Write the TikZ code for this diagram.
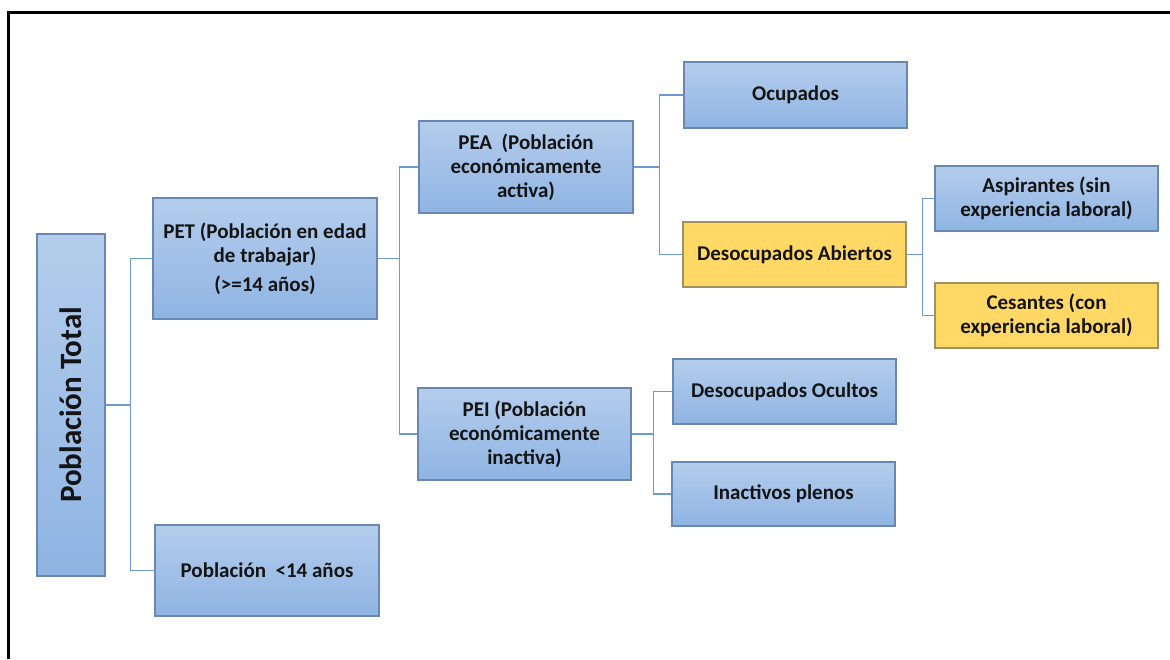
\documentclass[tikz,border=0pt]{standalone}
\usepackage{fontspec}
\setmainfont{Carlito}
\definecolor{bluetop}{RGB}{180,205,236}
\definecolor{bluebot}{RGB}{143,180,227}
\definecolor{blueedge}{RGB}{105,135,175}
\definecolor{yelfill}{RGB}{255,216,102}
\definecolor{yeledge}{RGB}{160,145,100}
\definecolor{wire}{RGB}{108,155,210}
\definecolor{ink}{RGB}{20,20,20}
\tikzset{
  bbox/.style={draw=blueedge, line width=1.2pt, top color=bluetop, bottom color=bluebot,
    text=ink, font=\fontsize{21}{24}\selectfont\bfseries, align=center, inner sep=0pt,
    anchor=center},
  ybox/.style={bbox, fill=yelfill, top color=yelfill, bottom color=yelfill, draw=yeledge},
  wirel/.style={draw=wire, line width=1.5pt},
}
\begin{document}
\begin{tikzpicture}[x=1pt,y=-1pt]
\useasboundingbox (0,0) rectangle (1170,659);
\draw[line width=2.2pt, black] (8.5,659) -- (8.5,12.5) -- (1170,12.5);

\node[bbox, minimum width=68pt, minimum height=342pt] (tot) at (71,405)
  {\rotatebox{90}{\fontsize{31}{33}\selectfont\bfseries Población Total}};
\node[bbox, minimum width=224pt, minimum height=121pt] (pet) at (265,258.5)
  {PET (Población en edad\\de trabajar)\\[5pt](>=14 años)};
\node[bbox, minimum width=224pt, minimum height=91pt] (men) at (267,570.5)
  {Población\ \ <14 años};
\node[bbox, minimum width=214pt, minimum height=92pt] (pea) at (526,167)
  {PEA\ \ (Población\\económicamente\\activa)};
\node[bbox, minimum width=213pt, minimum height=92pt] (pei) at (524.5,434)
  {PEI (Población\\económicamente\\inactiva)};
\node[bbox, minimum width=223pt, minimum height=66pt] (ocu) at (795.5,95) {Ocupados};
\node[ybox, minimum width=223pt, minimum height=65pt] (dab) at (794.5,254.5) {Desocupados Abiertos};
\node[bbox, minimum width=223pt, minimum height=65pt] (asp) at (1046.5,198.5)
  {Aspirantes (sin\\experiencia laboral)};
\node[ybox, minimum width=223pt, minimum height=65pt] (ces) at (1046.5,315.5)
  {Cesantes (con\\experiencia laboral)};
\node[bbox, minimum width=223pt, minimum height=65pt] (doc) at (784.5,391.5) {Desocupados Ocultos};
\node[bbox, minimum width=223pt, minimum height=64pt] (ina) at (783.5,494) {Inactivos plenos};

\draw[wirel] (tot.east) -- ++(25,0) coordinate (j1);
\draw[wirel] (j1) |- (pet.west);
\draw[wirel] (j1) |- (men.west);
\draw[wirel] (pet.east) -- ++(22,0) coordinate (j2);
\draw[wirel] (j2) |- (pea.west);
\draw[wirel] (j2) |- (pei.west);
\draw[wirel] (pea.east) -- ++(26,0) coordinate (j3);
\draw[wirel] (j3) |- (ocu.west);
\draw[wirel] (j3) |- (dab.west);
\draw[wirel] (dab.east) -- ++(16,0) coordinate (j4);
\draw[wirel] (j4) |- (asp.west);
\draw[wirel] (j4) |- (ces.west);
\draw[wirel] (pei.east) -- ++(22,0) coordinate (j5);
\draw[wirel] (j5) |- (doc.west);
\draw[wirel] (j5) |- (ina.west);
\end{tikzpicture}
\end{document}
